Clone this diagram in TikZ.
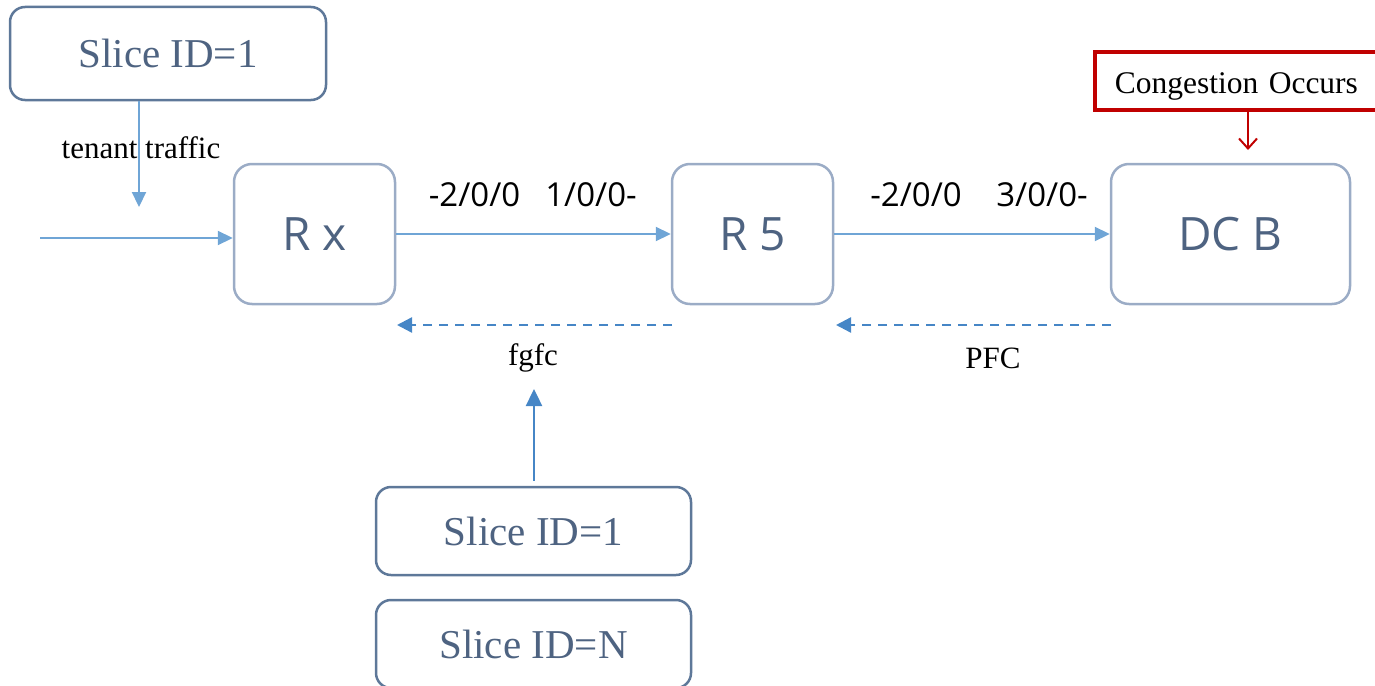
\documentclass[tikz,border=0pt]{standalone}
\usepackage{fontspec}
\setmainfont{Liberation Serif}
\newfontfamily\uisans{Open Sans}
\usetikzlibrary{arrows.meta}

\definecolor{routerline}{HTML}{9BACC6}
\definecolor{sliceline}{HTML}{5E7899}
\definecolor{boxtext}{HTML}{4E6381}
\definecolor{flowblue}{HTML}{6FA5D6}
\definecolor{ctrlblue}{HTML}{4686C6}
\definecolor{alarmred}{HTML}{C00000}

\tikzset{
  router/.style={draw=routerline, line width=2.5pt, rounded corners=18pt,
    minimum height=140pt, text=boxtext, font=\uisans\fontsize{46}{50}\selectfont},
  slicebox/.style={draw=sliceline, line width=2.5pt, rounded corners=15pt,
    minimum width=315pt, text=boxtext, font=\fontsize{41}{45}\selectfont},
  portlbl/.style={font=\uisans\fontsize{33}{36}\selectfont, text=black},
  notelbl/.style={font=\fontsize{31}{34}\selectfont, text=black},
  flow/.style={draw=flowblue, line width=2.2pt, -{Triangle[length=15pt, width=14pt]}},
  ctrl/.style={draw=ctrlblue, line width=2.4pt, dash pattern=on 9pt off 7pt,
    -{Triangle[length=15pt, width=15pt]}},
  uplink/.style={draw=ctrlblue, line width=2.4pt, -{Triangle[length=17pt, width=16pt]}},
  alarm/.style={draw=alarmred, line width=3.5pt},
  alarmarrow/.style={draw=alarmred, line width=2pt, -{Straight Barb[length=10pt, width=18pt, line width=2pt]}}
}

\begin{document}
\begin{tikzpicture}[x=1pt, y=-1pt]
  \useasboundingbox (0,0) rectangle (1375,685);
  \clip (0,0) rectangle (1375,685);

  % routers and the data centre
  \node[router, minimum width=161pt] (rx) at (314.5,234) {R x};
  \node[router, minimum width=161pt] (r5) at (752.5,234) {R 5};
  \node[router, minimum width=239pt] (dcb) at (1230.5,234) {DC B};

  % slice boxes
  \node[slicebox, minimum width=316pt, minimum height=93pt] (slicetop) at (168,53.5) {Slice ID=1};
  \node[slicebox, minimum height=88pt] (sliceone) at (533.5,531) {Slice ID=1};
  \node[slicebox, minimum height=88pt] (slicen) at (533.5,644) {Slice ID=N};

  % congestion notice
  \node[alarm, anchor=west, text width=267pt, inner xsep=20pt, minimum height=58pt,
        text height=25pt, text depth=0pt,
        align=left, font=\fontsize{31.5}{34}\selectfont] (cong) at (1093,81)
        {Congestion Occurs};
  \coordinate (congin) at (1248,150);
  \draw[alarmarrow] (cong.south -| congin) -- (congin);

  % data path
  \coordinate (src) at (40,238);
  \draw[flow] (src) -- (src -| rx.west);
  \draw[flow] (rx.east) -- (r5.west);
  \draw[flow] (r5.east) -- (dcb.west);

  % tenant traffic
  \coordinate (tenantin) at (139,207);
  \draw[flow] (slicetop.south -| tenantin) -- (tenantin);
  \node[notelbl] (tenant) at (141,148) {tenant traffic};

  % port labels
  \node[portlbl] (p1) at (474.5,195) {-2/0/0};
  \node[portlbl] (p2) at (591,195) {1/0/0-};
  \node[portlbl] (p3) at (916,195) {-2/0/0};
  \node[portlbl] (p4) at (1042,195) {3/0/0-};

  % back-pressure signals
  \coordinate (fgfcstart) at (672,325);
  \coordinate (fgfcend) at (397,325);
  \draw[ctrl] (fgfcstart) -- (fgfcend);
  \node[notelbl] (fgfc) at (533,358) {fgfc};

  \coordinate (pfcstart) at (1111,325);
  \coordinate (pfcend) at (836,325);
  \draw[ctrl] (pfcstart) -- (pfcend);
  \node[notelbl] (pfc) at (993,358) {PFC};

  \coordinate (uptip) at (534,389);
  \draw[uplink] (sliceone.north -| uptip) ++(0,-5) -- (uptip);
\end{tikzpicture}
\end{document}
